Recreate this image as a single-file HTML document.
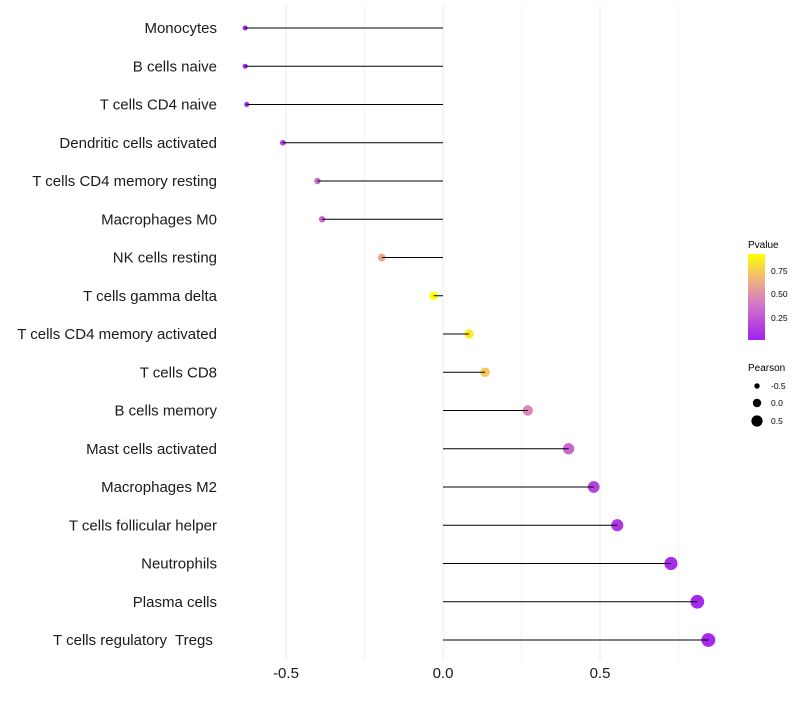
<!DOCTYPE html>
<html><head><meta charset="utf-8"><style>
body{margin:0;background:#fff;font-family:"Liberation Sans",sans-serif}
svg text{font-family:"Liberation Sans",sans-serif}
</style></head><body>
<svg id="c" width="800" height="700" xmlns="http://www.w3.org/2000/svg">
<defs><linearGradient id="pg" x1="0" y1="1" x2="0" y2="0">
<stop offset="0" stop-color="#A020F0"/><stop offset="0.45" stop-color="#D77FC2"/><stop offset="0.7" stop-color="#F0B27E"/><stop offset="1" stop-color="#FFFF00"/></linearGradient></defs>
<g id="grid"></g><g id="marks"></g><g id="labels"></g><g id="xaxis"></g>
<g>
<text x="748" y="248" font-size="10">Pvalue</text>
<rect x="748" y="254" width="17" height="86" fill="url(#pg)"/>
<text x="771" y="274" font-size="8.5">0.75</text>
<text x="771" y="297" font-size="8.5">0.50</text>
<text x="771" y="321" font-size="8.5">0.25</text>
<text x="748" y="371" font-size="10">Pearson</text>
<circle cx="757" cy="386" r="2.7" fill="#000"/><text x="771" y="389" font-size="8.5">-0.5</text>
<circle cx="757" cy="403" r="4.2" fill="#000"/><text x="771" y="406" font-size="8.5">0.0</text>
<circle cx="757" cy="421" r="5.6" fill="#000"/><text x="771" y="424" font-size="8.5">0.5</text>
</g>
</svg>
<script>
const categories=["Monocytes","B cells naive","T cells CD4 naive","Dendritic cells activated","T cells CD4 memory resting","Macrophages M0","NK cells resting","T cells gamma delta","T cells CD4 memory activated","T cells CD8","B cells memory","Mast cells activated","Macrophages M2","T cells follicular helper","Neutrophils","Plasma cells","T cells regulatory\u00a0 Tregs\u00a0"];
const pearson=[-0.63,-0.63,-0.625,-0.51,-0.40,-0.385,-0.195,-0.03,0.083,0.134,0.27,0.40,0.48,0.555,0.726,0.81,0.845];
const pvalue=[0.01,0.01,0.01,0.15,0.33,0.3,0.6,0.92,0.85,0.72,0.45,0.3,0.15,0.1,0.05,0.04,0.04];
const xTicks=[-0.5,0,0.5];
const xTickLabels=["-0.5","0.0","0.5"];
const gridVals=[-0.5,-0.25,0,0.25,0.5,0.75];
const NS="http://www.w3.org/2000/svg";
const x=v=>443+v*314;
const y=i=>28+i*38.25;
const r=v=>4.4+3*v;
const stops=[[0,[160,32,240]],[0.45,[215,127,194]],[0.7,[240,178,126]],[1,[255,255,0]]];
function col(p){let t=Math.max(0,Math.min(1,p/0.92));for(let k=1;k<stops.length;k++){if(t<=stops[k][0]){const a=stops[k-1],b=stops[k],f=(t-a[0])/(b[0]-a[0]);return "rgb("+a[1].map((c,j)=>Math.round(c+(b[1][j]-c)*f)).join(",")+")";}}return "rgb(255,255,0)";}
function mk(t,attrs,parent){const e=document.createElementNS(NS,t);for(const k in attrs)e.setAttribute(k,attrs[k]);document.getElementById(parent).appendChild(e);return e;}
gridVals.forEach(v=>{const l=mk("line",{x1:x(v),x2:x(v),y1:5,y2:660,stroke:"#ebebeb","stroke-width":v*4%2===0?1:0.6},"grid");

});
categories.forEach((c,i)=>{
const d=mk("circle",{cx:x(pearson[i]),cy:y(i),r:r(pearson[i]),fill:col(pvalue[i])},"marks");


const l=mk("line",{x1:x(0),x2:x(pearson[i]),y1:y(i),y2:y(i),stroke:"#000","stroke-width":1},"marks");


const t=mk("text",{x:217,y:y(i)+5,"text-anchor":"end","font-size":"15",fill:"#1a1a1a"},"labels");
t.textContent=c;


});
xTicks.forEach((v,i)=>{const t=mk("text",{x:x(v),y:678,"text-anchor":"middle","font-size":"15",fill:"#1a1a1a"},"xaxis");
t.textContent=xTickLabels[i];

});
</script>
</body></html>
